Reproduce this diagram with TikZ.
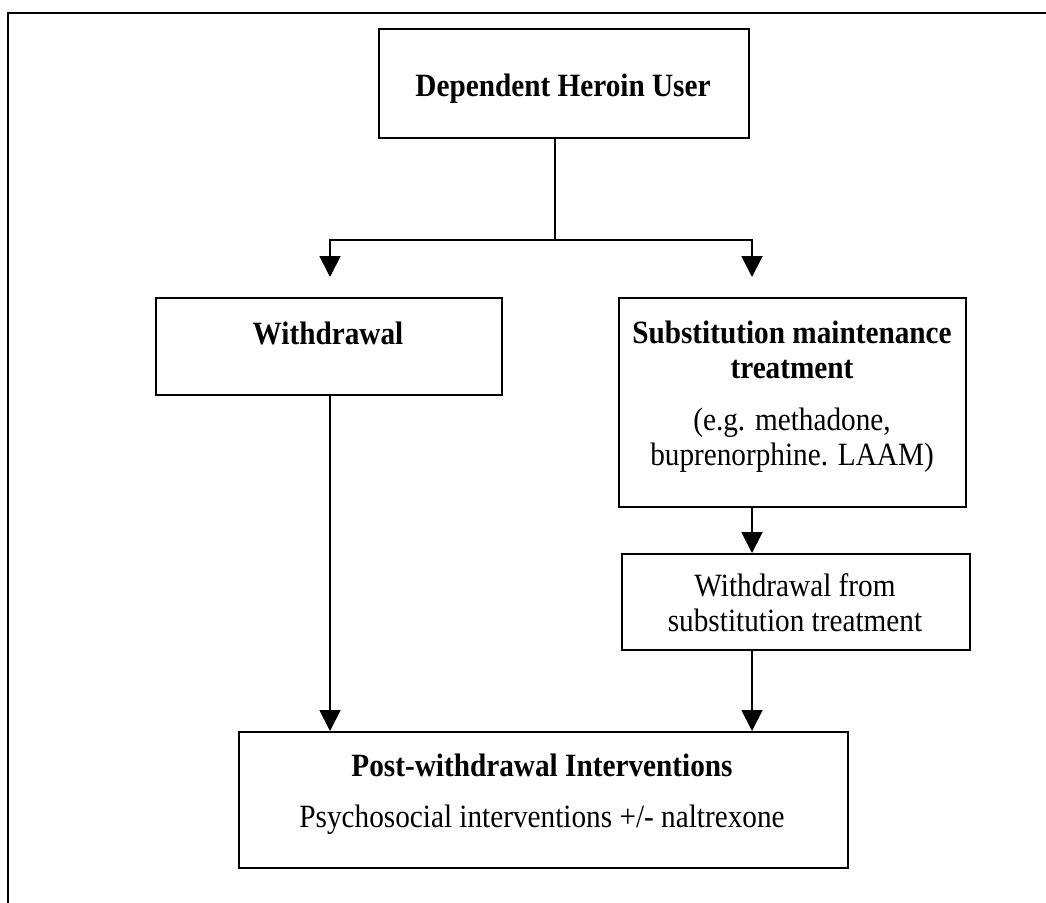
\documentclass[tikz,border=0pt]{standalone}
\usepackage{fontspec}
\setmainfont{Liberation Serif}[FakeStretch=0.9]
\usetikzlibrary{arrows.meta}

\tikzset{
  box/.style={draw, line width=2pt, inner sep=0pt, anchor=north west},
  txt/.style={align=center, inner sep=0pt, font=\fontsize{32.5}{35}\selectfont},
  btxt/.style={txt, font=\fontsize{32.5}{35}\selectfont\bfseries},
  conn/.style={line width=1.9pt},
  arr/.style={conn, -{Triangle[length=21pt,width=21pt]}},
  frame/.style={line width=2.8pt}
}

\begin{document}
\begin{tikzpicture}[x=1pt, y=-1pt]
  \useasboundingbox (0,0) rectangle (1046,902);
  \clip (0,0) rectangle (1046,902);

  % outer frame (runs off the page to the right and bottom)
  \draw[frame] (1060,13) -- (8,13) -- (8,920);

  % boxes
  \node[box, minimum width=370pt, minimum height=109pt] (top) at (378,28) {};
  \node[box, minimum width=346pt, minimum height=97pt]  (wd)  at (155,297) {};
  \node[box, minimum width=347pt, minimum height=209pt] (sub) at (618,297) {};
  \node[box, minimum width=348pt, minimum height=96pt]  (wfs) at (621,553) {};
  \node[box, minimum width=609pt, minimum height=136pt] (post) at (238,731) {};

  % box texts
  \node[btxt] (ttop) at (563,89) {Dependent Heroin User};
  \node[btxt] (twd) at (328,333) {Withdrawal};
  \node[btxt] (tsub) at (792,350) {Substitution maintenance\\treatment};
  \node[txt] (tsubeg) at (792,440) {(e.g. methadone,\\buprenorphine. LAAM)};
  \node[txt] (twfs) at (795,603) {Withdrawal from\\substitution treatment};
  \node[btxt] (tpost) at (542,765) {Post-withdrawal Interventions};
  \node[txt] (tpostsub) at (542,820) {Psychosocial interventions +/- naltrexone};

  % branching from the top box
  \coordinate (split) at (555,240);
  \coordinate (bl) at (330,240);
  \coordinate (br) at (752,240);
  \draw[line width=1.3pt] (split |- top.south) -- (split);
  \draw[conn, line cap=rect] (bl) -- (br);
  \draw[arr, shorten >=20pt] (bl) -- (bl |- wd.north);
  \draw[arr, shorten >=20pt] (br) -- (br |- sub.north);

  % lower connectors
  \draw[arr] (br |- sub.south) -- (br |- wfs.north);
  \draw[arr] (br |- wfs.south) -- (br |- post.north);
  \draw[arr] (bl |- wd.south) -- (bl |- post.north);
\end{tikzpicture}
\end{document}
